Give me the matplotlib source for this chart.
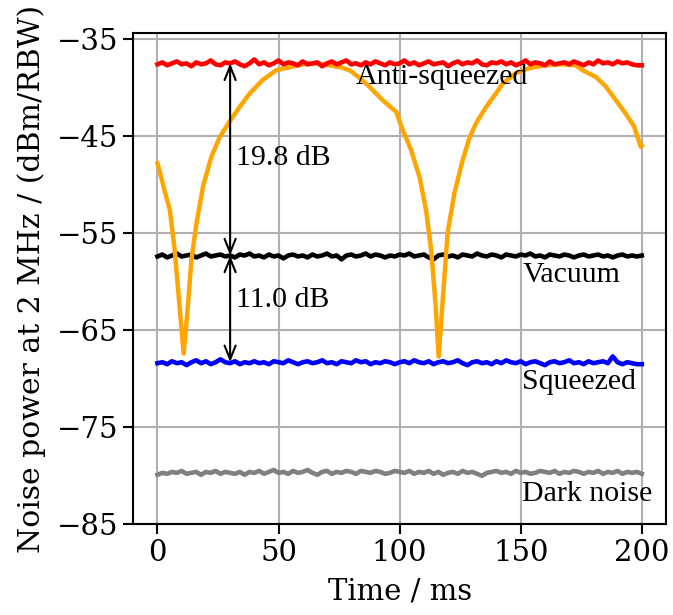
import numpy as np
import matplotlib
matplotlib.use('Agg')
import matplotlib.pyplot as plt

plt.rcParams['font.family'] = 'DejaVu Serif'

# time axis of the flat traces (ms)
t = np.linspace(0, 200, 101)

anti_squeezed = [-37.6, -37.4, -37.7, -37.5, -37.3, -37.6, -37.5, -37.8, -37.4, -37.6,
                 -37.5, -37.2, -37.6, -37.7, -37.4, -37.5, -37.3, -37.6, -37.8, -37.5,
                 -37.1, -37.6, -37.4, -37.7, -37.5, -37.2, -37.6, -37.4, -37.5, -37.7,
                 -37.3, -37.6, -37.5, -37.4, -37.8, -37.5, -37.3, -37.6, -37.4, -37.2,
                 -37.6, -37.5, -37.7, -37.4, -37.6, -37.3, -37.5, -37.7, -37.4, -37.6,
                 -37.5, -37.2, -37.6, -37.4, -37.7, -37.5, -37.3, -37.6, -37.5, -37.4,
                 -37.8, -37.5, -37.3, -37.6, -37.4, -37.5, -37.2, -37.6, -37.7, -37.4,
                 -37.5, -37.3, -37.6, -37.4, -37.7, -37.5, -37.2, -37.6, -37.4, -37.5,
                 -37.7, -37.3, -37.6, -37.5, -37.4, -37.6, -37.3, -37.5, -37.7, -37.4,
                 -37.6, -37.2, -37.5, -37.4, -37.6, -37.3, -37.5, -37.4, -37.6, -37.7, -37.7]

vacuum = [-57.4, -57.2, -57.5, -57.3, -57.1, -57.4, -57.3, -57.2, -57.5, -57.3,
          -57.1, -57.4, -57.3, -57.2, -57.4, -57.3, -57.5, -57.2, -57.3, -57.1,
          -57.4, -57.3, -57.5, -57.2, -57.4, -57.3, -57.6, -57.3, -57.2, -57.4,
          -57.3, -57.5, -57.2, -57.4, -57.3, -57.1, -57.4, -57.3, -57.7, -57.3,
          -57.2, -57.4, -57.3, -57.1, -57.4, -57.2, -57.3, -57.5, -57.3, -57.4,
          -57.2, -57.3, -57.1, -57.4, -57.3, -57.2, -57.5, -57.7, -57.3, -57.2,
          -57.4, -57.3, -57.5, -57.2, -57.3, -57.4, -57.1, -57.3, -57.4, -57.2,
          -57.3, -57.5, -57.2, -57.3, -57.4, -57.2, -57.3, -57.1, -57.4, -57.3,
          -57.5, -57.2, -57.3, -57.4, -57.2, -57.3, -57.5, -57.3, -57.2, -57.4,
          -57.3, -57.2, -57.4, -57.3, -57.5, -57.3, -57.2, -57.4, -57.3, -57.4, -57.3]

squeezed = [-68.4, -68.3, -68.5, -68.2, -68.4, -68.3, -68.6, -68.3, -68.1, -68.4,
            -68.2, -68.5, -68.3, -68.0, -68.3, -68.4, -68.2, -68.5, -68.3, -68.4,
            -68.2, -68.4, -68.3, -68.5, -68.2, -68.3, -68.4, -68.1, -68.3, -68.5,
            -68.3, -68.2, -68.4, -68.3, -68.1, -68.4, -68.3, -68.5, -68.2, -68.3,
            -68.4, -68.1, -68.3, -68.2, -68.5, -68.3, -68.4, -68.2, -68.3, -68.5,
            -68.3, -68.2, -68.4, -68.1, -68.3, -68.4, -68.2, -68.5, -68.3, -68.2,
            -68.4, -68.3, -68.1, -68.4, -68.6, -68.3, -68.2, -68.4, -68.3, -68.5,
            -68.2, -68.4, -68.1, -68.3, -68.4, -68.2, -68.5, -68.3, -68.2, -68.4,
            -68.6, -68.3, -68.2, -68.4, -68.3, -68.1, -68.4, -68.3, -68.5, -68.2,
            -68.4, -68.3, -68.2, -68.4, -67.7, -68.3, -68.5, -68.3, -68.4, -68.5, -68.5]

dark_noise = [-79.9, -79.7, -79.8, -79.6, -79.7, -79.5, -79.8, -79.7, -79.6, -79.9,
              -79.6, -79.7, -79.5, -79.8, -79.6, -79.7, -79.8, -79.6, -79.9, -79.6,
              -79.7, -79.5, -79.8, -79.6, -79.4, -79.7, -79.6, -79.8, -79.5, -79.7,
              -79.6, -79.4, -79.7, -79.9, -79.6, -79.5, -79.8, -79.6, -79.7, -79.5,
              -79.6, -79.8, -79.5, -79.6, -79.7, -79.5, -79.6, -79.8, -79.7, -79.5,
              -79.6, -79.7, -79.5, -79.8, -79.6, -79.7, -79.5, -79.8, -79.6, -79.9,
              -79.7, -79.6, -79.8, -79.5, -79.7, -79.6, -79.8, -80.0, -79.7, -79.6,
              -79.5, -79.7, -79.6, -79.8, -79.5, -79.7, -79.6, -79.8, -79.7, -79.5,
              -79.6, -79.7, -79.5, -79.8, -79.6, -79.7, -79.5, -79.6, -79.8, -79.6,
              -79.7, -79.5, -79.8, -79.6, -79.7, -79.5, -79.8, -79.6, -79.7, -79.6, -79.8]

# phase scan (orange)
scan_t = [0, 1.5, 3.0, 5.1, 7.1, 8.9, 10.8, 12.2, 14.0, 16.1, 18.8, 22.3, 25.7, 29.8, 33.9,
          38.1, 43.5, 49.1, 54.6, 60.0, 66.0, 71.1, 75.5, 79.3, 83.5, 87.5, 93.0, 98.6,
          101.3, 104.7, 108.2, 110.9, 113.0, 114.8, 116.1, 117.8, 119.8, 122.6, 126.0,
          128.8, 131.5, 135.7, 139.8, 142.5, 148.0, 153.5, 160.4, 166.5, 172.8, 175.5,
          181.0, 185.2, 189.3, 193.4, 196.8, 199.6, 200.0]
scan_p = [-47.8, -49.2, -50.7, -52.6, -56.7, -61.9, -67.4, -63.6, -57.8, -54.0, -50.2, -47.1,
          -45.1, -43.5, -42.0, -40.6, -39.2, -38.2, -37.9, -37.6, -37.5, -37.7, -37.9,
          -38.2, -39.0, -39.9, -41.3, -42.5, -44.4, -46.4, -49.2, -52.6, -56.7, -62.2,
          -67.7, -61.9, -55.0, -50.9, -47.5, -45.2, -43.7, -42.0, -40.6, -39.6, -38.5,
          -38.0, -37.7, -37.6, -37.7, -38.2, -38.9, -39.9, -41.3, -42.7, -44.0, -46.1,
          -46.0]

fig = plt.figure(figsize=(6.73, 6.15), dpi=100)
ax = fig.add_axes([0.198, 0.1475, 0.7916, 0.7984])

ax.plot(t, dark_noise, color='grey', lw=3.3, zorder=3)
ax.plot(t, squeezed, color='blue', lw=3.3, zorder=3)
ax.plot(t, vacuum, color='black', lw=3.3, zorder=3)
ax.plot(scan_t, scan_p, color='orange', lw=3.2, zorder=4)
ax.plot(t, anti_squeezed, color='red', lw=3.3, zorder=5)

arrow = dict(arrowstyle='<->,head_length=0.5,head_width=0.2', color='k', lw=1.5,
             shrinkA=0, shrinkB=0, mutation_scale=20)
ax.annotate('', xy=(30, -37.5), xytext=(30, -57.3), arrowprops=arrow, zorder=6)
ax.annotate('', xy=(30, -57.3), xytext=(30, -68.3), arrowprops=arrow, zorder=6)

lab = dict(family='Liberation Serif', fontsize=21.5, va='center', ha='left', zorder=7)
ax.text(32.5, -47.3, '19.8 dB', **lab)
ax.text(32.5, -61.9, '11.0 dB', **lab)
ax.text(82, -38.9, 'Anti-squeezed', **lab)
ax.text(151, -59.3, 'Vacuum', **lab)
ax.text(150.5, -70.3, 'Squeezed', **lab)
ax.text(150.5, -81.9, 'Dark noise', **lab)

ax.set_xlim(-10, 210)
ax.set_ylim(-85, -34.4)
ax.set_xticks([0, 50, 100, 150, 200])
ax.set_yticks([-35, -45, -55, -65, -75, -85])
ax.grid(True, color='#b0b0b0', lw=1.5, zorder=0)
ax.set_axisbelow(True)
ax.tick_params(labelsize=21, length=7, width=1.5)
for s in ax.spines.values():
    s.set_linewidth(1.5)
ax.set_xlabel('Time / ms', fontsize=21, labelpad=8)
ax.set_ylabel('Noise power at 2 MHz / (dBm/RBW)', fontsize=21.5, labelpad=8)

plt.savefig('out.png', dpi=100)
